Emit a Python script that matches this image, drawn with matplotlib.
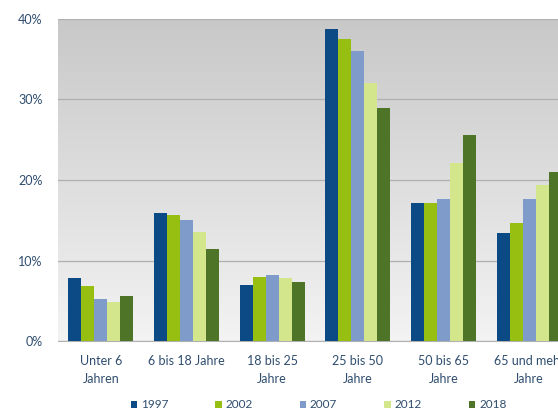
import numpy as np
import matplotlib.pyplot as plt
from matplotlib.colors import LinearSegmentedColormap

plt.rcParams['font.family'] = ['Lato', 'DejaVu Sans']

categories = ["Unter 6\nJahren", "6 bis 18 Jahre", "18 bis 25\nJahre",
              "25 bis 50\nJahre", "50 bis 65\nJahre", "65 und mehr\nJahre"]
years = ["1997", "2002", "2007", "2012", "2018"]
v1997 = [7.8, 15.9, 7.0, 38.8, 17.2, 13.4]
v2002 = [6.8, 15.7, 8.0, 37.5, 17.2, 14.7]
v2007 = [5.2, 15.1, 8.2, 36.0, 17.6, 17.6]
v2012 = [4.8, 13.5, 7.9, 32.1, 22.1, 19.4]
v2018 = [5.6, 11.4, 7.4, 28.9, 25.6, 21.0]
series = [v1997, v2002, v2007, v2012, v2018]
colors = ["#0b4a85", "#97bf12", "#7f9bc9", "#d3e68b", "#4e7428"]
text_col = "#2f4d6e"

fig = plt.figure(figsize=(5.58, 4.12), dpi=100)
ax = fig.add_axes([0.104, 0.172, 0.921, 0.782])

# gradient background of plot area
grad = np.linspace(0, 1, 256).reshape(-1, 1)
cmap = LinearSegmentedColormap.from_list("bg", ["#f3f3f3", "#c8c8c8"])
ax.imshow(grad, aspect="auto", cmap=cmap, origin="lower",
          extent=[-0.5, len(categories) - 0.5, 0, 40], zorder=0)

x = np.arange(len(categories))
bw = 0.152
for i, (vals, c, yr) in enumerate(zip(series, colors, years)):
    ax.bar(x + (i - 2) * bw, vals, width=bw, color=c, label=yr, zorder=3)

ax.set_xlim(-0.5, len(categories) - 0.5)
ax.set_ylim(0, 40)
ax.set_yticks([0, 10, 20, 30, 40])
ax.set_yticklabels(["0%", "10%", "20%", "30%", "40%"])
ax.set_xticks(x)
ax.set_xticklabels(categories, linespacing=1.55)
ax.tick_params(length=0, labelsize=9, colors=text_col)
ax.tick_params(axis="y", pad=11)
ax.tick_params(axis="x", pad=10)
ax.grid(axis="y", color="#b0b0b0", linewidth=0.9, zorder=1)
for s in ["top", "right", "left"]:
    ax.spines[s].set_visible(False)
ax.spines["bottom"].set_color("#b0b0b0")

leg = fig.legend(loc="lower left", bbox_to_anchor=(0.215, -0.022), ncol=5,
                 frameon=False, fontsize=8.5, handlelength=0.55, handleheight=0.55,
                 handletextpad=0.3, columnspacing=4.0)
for t in leg.get_texts():
    t.set_color(text_col)

fig.savefig("out.png", dpi=100)
